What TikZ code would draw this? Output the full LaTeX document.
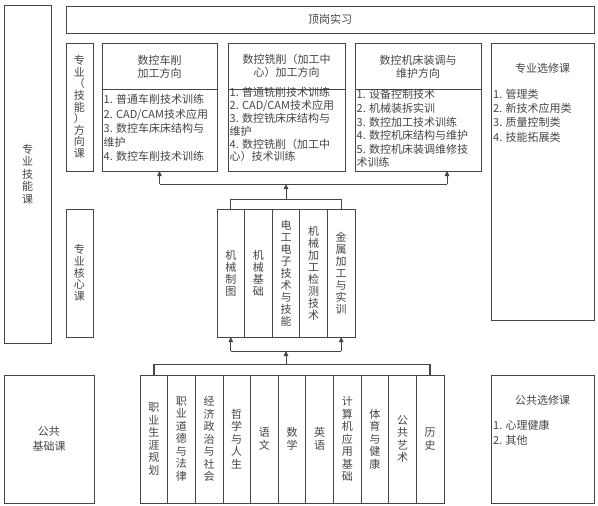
\documentclass[tikz,border=0pt]{standalone}
\usepackage{fontspec}
\setmainfont{Noto Sans CJK SC}
\usetikzlibrary{arrows.meta,calc}
\definecolor{ln}{RGB}{70,70,70}
\definecolor{tx}{RGB}{70,70,70}
\tikzset{
  box/.style={draw=ln, line width=0.8pt, inner sep=0pt, outer sep=0pt, anchor=north west, text=tx, align=center},
  vt/.style={font=\fontsize{11}{12.5}\selectfont},
  lst/.style={text=tx, align=left, inner sep=0pt, anchor=north west},
  hd/.style={text=tx, align=center, font=\fontsize{11}{13}\selectfont, inner sep=0pt},
  conn/.style={draw=ln, line width=0.8pt},
  arr/.style={conn, -{Triangle[length=5pt,width=4.5pt]}},
}
\begin{document}
\begin{tikzpicture}[x=1pt,y=-1pt]
\useasboundingbox (0,0) rectangle (598,506);
\fill[white] (0,0) rectangle (598,506);

% left big boxes
\node[box, vt, minimum width=47pt, minimum height=338pt] (skill) at (4,5) {专\\业\\技\\能\\课};
\node[box, font=\fontsize{11}{15}\selectfont, minimum width=90pt, minimum height=128pt] (pub) at (4,375) {公共\\基础课};

% top
\node[box, font=\fontsize{11}{13}\selectfont, minimum width=528pt, minimum height=27pt] (top) at (66,6) {顶岗实习};

% labels
\node[box, font=\fontsize{11}{11.6}\selectfont, minimum width=27pt, minimum height=128pt] (dir) at (66,43) {专\\业\\（\\技\\能\\）\\方\\向\\课};
\node[box, font=\fontsize{11}{11.8}\selectfont, minimum width=27pt, minimum height=128pt] (corel) at (66,209) {专\\业\\核\\心\\课};

% direction boxes
\node[box, minimum width=115pt, minimum height=128pt] (d1) at (102,43) {};
\node[box, minimum width=117pt, minimum height=128pt] (d2) at (228,43) {};
\node[box, minimum width=126pt, minimum height=128pt] (d3) at (355,43) {};
\foreach \d in {d1,d2,d3}{
  \draw[conn] ([yshift=-46pt]\d.north west) -- ([yshift=-46pt]\d.north east);
}
\node[hd] at ([yshift=-23.5pt]d1.north) {数控车削\\加工方向};
\node[hd] at ([yshift=-23pt]d2.north) {数控铣削（加工中\\心）加工方向};
\node[hd] at ([yshift=-23.5pt]d3.north) {数控机床装调与\\维护方向};
\node[lst, font=\fontsize{11}{14.2}\selectfont] at ([xshift=1.5pt,yshift=-51.5pt]d1.north west)
  {1. 普通车削技术训练\\2. CAD/CAM技术应用\\3. 数控车床床结构与\\维护\\4. 数控车削技术训练};
\node[lst, font=\fontsize{11}{12.8}\selectfont] at ([xshift=1.5pt,yshift=-44.5pt]d2.north west)
  {1. 普通铣削技术训练\\2. CAD/CAM技术应用\\3. 数控铣床床结构与\\维护\\4. 数控铣削（加工中\\心）技术训练};
\node[lst, font=\fontsize{11}{13.6}\selectfont] at ([xshift=1.5pt,yshift=-46.5pt]d3.north west)
  {1. 设备控制技术\\2. 机械装拆实训\\3. 数控加工技术训练\\4. 数控机床结构与维护\\5. 数控机床装调维修技\\术训练};

% elective boxes
\node[box, minimum width=103pt, minimum height=277pt] (el) at (491,43) {};
\node[hd] at ([yshift=-25pt]el.north) {专业选修课};
\node[lst, font=\fontsize{11}{14.2}\selectfont] at ([xshift=2pt,yshift=-46pt]el.north west)
  {1. 管理类\\2. 新技术应用类\\3. 质量控制类\\4. 技能拓展类};
\node[box, minimum width=103pt, minimum height=128pt] (pel) at (491,375) {};
\node[hd] at ([yshift=-25pt]pel.north) {公共选修课};
\node[lst, font=\fontsize{11}{15}\selectfont] at ([xshift=2pt,yshift=-44.5pt]pel.north west)
  {1. 心理健康\\2. 其他};

% core columns
\foreach \i/\t in {1/{机\\械\\制\\图},2/{机\\械\\基\\础},3/{电\\工\\电\\子\\技\\术\\与\\技\\能},4/{机\\械\\加\\工\\检\\测\\技\\术},5/{金\\属\\加\\工\\与\\实\\训}}{
  \node[box, font=\fontsize{11}{12}\selectfont, minimum width=27.6pt, minimum height=128pt] (c\i) at ({217+27.6*(\i-1)},209) {\t};
}

% public columns
\foreach \i/\t in {1/{职\\业\\生\\涯\\规\\划},2/{职\\业\\道\\德\\与\\法\\律},3/{经\\济\\政\\治\\与\\社\\会},4/{哲\\学\\与\\人\\生},5/{语\\文},6/{数\\学},7/{英\\语},8/{计\\算\\机\\应\\用\\基\\础},9/{体\\育\\与\\健\\康},10/{公\\共\\艺\\术},11/{历\\史}}{
  \node[box, font=\fontsize{11}{12.5}\selectfont, minimum width=27.64pt, minimum height=128pt] (p\i) at ({140+27.64*(\i-1)},375) {\t};
}

% connectors: core -> directions
\coordinate (ct1) at ([yshift=10pt]c1.north);
\coordinate (ct5) at ([yshift=10pt]c5.north);
\draw[conn] (c1.north) -- (ct1) -- (ct5) -- (c5.north);
\coordinate (ctm) at ($(ct1)!0.5!(ct5)$);
\coordinate (hm) at ([yshift=15pt]ctm);
\draw[arr] (ctm) -- (hm);
\coordinate (hl) at ([yshift=-13pt]d1.south);
\coordinate (hr) at ([xshift=29pt,yshift=-13pt]d3.south);
\draw[conn] (hl) -- (hr);
\draw[arr] (hl) -- (d1.south);
\draw[arr] (hr) -- (hr |- d3.south);

% connectors: public -> core
\coordinate (lo1) at ([yshift=-14pt]c1.south);
\coordinate (lo5) at ([yshift=-14pt]c5.south);
\draw[conn] (lo1) -- (lo5);
\draw[arr] (lo1) -- (c1.south);
\draw[arr] (lo5) -- (c5.south);
\coordinate (lm) at ($(lo1)!0.5!(lo5)$);
\coordinate (pl) at ([yshift=11pt]p1.north);
\coordinate (pr) at ([yshift=11pt]p11.north);
\draw[conn] (pl) -- (pr);
\draw[conn, line width=2pt] (pl) -- (p1.north);
\draw[conn, line width=2pt] (pr) -- (p11.north);
\draw[arr] (lm |- pl) -- (lm);
\end{tikzpicture}
\end{document}
